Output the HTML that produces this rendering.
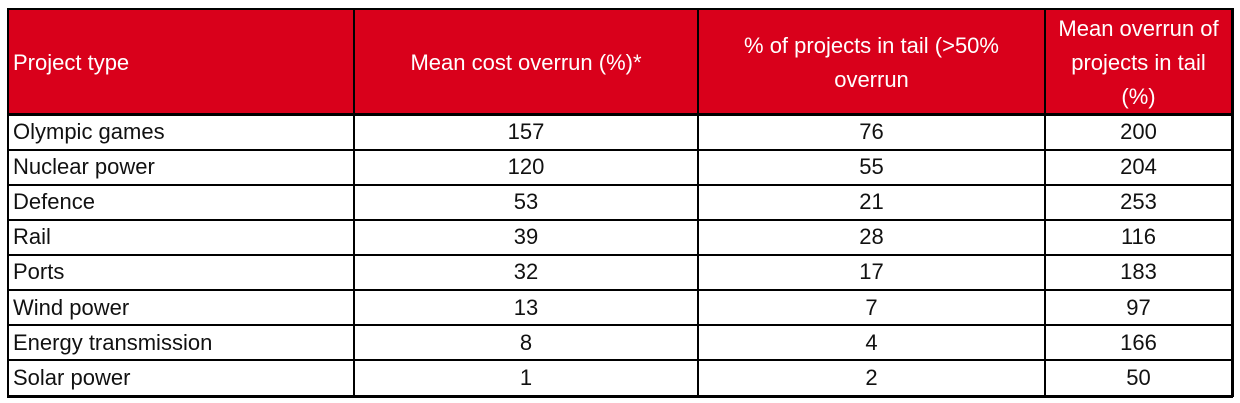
<!DOCTYPE html>
<html><head><style>
body{margin:0;width:1240px;height:403px;background:#fff;overflow:hidden;font-family:"Liberation Sans",sans-serif;position:relative}
.h{position:absolute;background:#d9001b;left:8px;top:9px;width:1224px;height:105px}
.l{position:absolute;background:#000}
.c{position:absolute;font-size:22px;color:#111;display:flex;align-items:center;line-height:34px}
.w{color:#fff}
.ctr{justify-content:center;text-align:center}
</style></head><body>
<div class="h"></div>
<div class="c w" style="left:13px;top:9px;width:340px;height:108px">Project type</div>
<div class="c w ctr" style="left:354px;top:9px;width:344px;height:108px">Mean cost overrun (%)*</div>
<div class="c w ctr" style="left:698px;top:9px;width:347px;height:108px">% of projects in tail (&gt;50%<br>overrun</div>
<div class="c w ctr" style="left:1045px;top:9px;width:187px;height:108px">Mean overrun of<br>projects in tail<br>(%)</div>
<div id="rows"></div>
<script>
var d=[["Olympic games",157,76,200],["Nuclear power",120,55,204],["Defence",53,21,253],["Rail",39,28,116],["Ports",32,17,183],["Wind power",13,7,97],["Energy transmission",8,4,166],["Solar power",1,2,50]];
var h='',y0=114.5,s=35.1;
d.forEach(function(r,i){var y=y0+i*s;
h+='<div class="c" style="left:13px;top:'+y+'px;width:340px;height:'+s+'px">'+r[0]+'</div>';
h+='<div class="c ctr" style="left:354px;top:'+y+'px;width:344px;height:'+s+'px">'+r[1]+'</div>';
h+='<div class="c ctr" style="left:698px;top:'+y+'px;width:347px;height:'+s+'px">'+r[2]+'</div>';
h+='<div class="c ctr" style="left:1045px;top:'+y+'px;width:187px;height:'+s+'px">'+r[3]+'</div>';
if(i>0)h+='<div class="l" style="left:8px;top:'+(y-1)+'px;width:1224px;height:2px"></div>';});
h+='<div class="l" style="left:8px;top:113px;width:1224px;height:2.5px"></div>';
[354,698,1045].forEach(function(x){h+='<div class="l" style="left:'+(x-1)+'px;top:9px;width:1.5px;height:387px"></div>';});
h+='<div class="l" style="left:7px;top:8px;width:1226px;height:2px"></div>';
h+='<div class="l" style="left:7px;top:395px;width:1226px;height:2.5px"></div>';
h+='<div class="l" style="left:7px;top:8px;width:2px;height:389px"></div>';
h+='<div class="l" style="left:1231px;top:8px;width:2.5px;height:389px"></div>';
document.getElementById('rows').innerHTML=h;
</script>
</body></html>
